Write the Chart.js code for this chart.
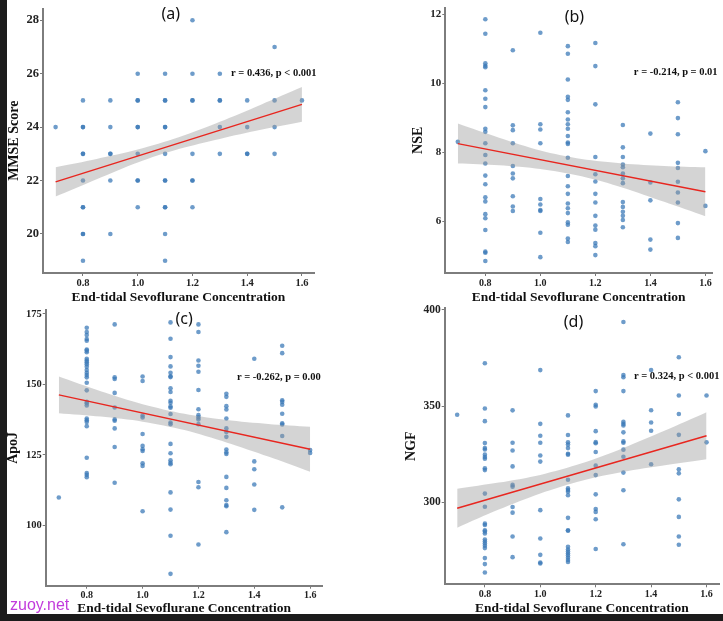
<!DOCTYPE html>
<html>
<head>
<meta charset="utf-8">
<script src="https://cdn.jsdelivr.net/npm/chart.js@4.4.0/dist/chart.umd.min.js"></script>
<style>
  html, body { margin: 0; padding: 0; background: #fff; }
  body { width: 723px; height: 621px; position: relative; overflow: hidden; }
  canvas { position: absolute; }
  #panelA { left: 0; top: 0; }
  #panelB { left: 362px; top: 0; }
  #panelC { left: 0; top: 300px; }
  #panelD { left: 362px; top: 300px; }
  .strip-left { position: absolute; left: 0; top: 0; width: 7px; height: 621px; background: #1c1c1c; }
  .strip-bottom { position: absolute; left: 0; top: 614px; width: 723px; height: 7px; background: #1c1c1c; }
  .mark { position: absolute; left: 10px; top: 596px; color: #c23bdc; font: 16px "Liberation Sans", sans-serif; }
</style>
</head>
<body>
<canvas id="panelA" width="362" height="310"></canvas>
<canvas id="panelB" width="361" height="310"></canvas>
<canvas id="panelC" width="362" height="321"></canvas>
<canvas id="panelD" width="361" height="321"></canvas>
<div class="strip-left"></div>
<div class="strip-bottom"></div>
<div class="mark">zuoy.net</div>
<script>
// shared x values
const doses = [0.7, 0.8, 0.9, 1.0, 1.1, 1.2, 1.3, 1.4, 1.5, 1.6];
const xTicks = [0.8, 1.0, 1.2, 1.4, 1.6];
const fitX = [0.7, 1.6];
const bandX = [0.7, 0.85, 1.0, 1.15, 1.3, 1.45, 1.6];

// (a) MMSE score, one list per dose
const mmseByDose = [
  [24],
  [25, 24, 24, 23, 23, 22, 21, 21, 20, 20, 19],
  [25, 24, 23, 23, 22, 20],
  [26, 25, 25, 24, 24, 23, 22, 22, 21],
  [26, 25, 25, 24, 24, 23, 22, 22, 21, 21, 20, 19],
  [28, 26, 25, 25, 23, 22, 22, 21],
  [26, 25, 25, 24, 23],
  [25, 24, 23, 23],
  [27, 25, 24, 23],
  [25]
];
const mmseTicks = [20, 22, 24, 26, 28];
const mmseFit = [21.95, 24.85];
const mmseUpper = [22.5, 22.81, 23.16, 23.62, 24.2, 24.84, 25.5];
const mmseLower = [21.4, 22.05, 22.68, 23.18, 23.56, 23.9, 24.2];

// (b) NSE
const nseByDose = [
  [8.30],
  [11.86, 11.44, 10.58, 10.51, 10.47, 9.80, 9.55, 9.31, 8.68, 8.59, 8.26, 7.92, 7.67, 7.32, 7.07, 6.69, 6.57, 6.20, 6.08, 5.74, 5.11, 5.08, 4.84],
  [10.96, 8.78, 8.64, 8.26, 7.60, 7.38, 7.24, 6.72, 6.42, 6.29],
  [11.47, 8.81, 8.66, 8.26, 6.64, 6.48, 6.32, 6.29, 5.66, 4.95],
  [11.08, 10.86, 10.11, 9.61, 9.52, 9.16, 8.95, 8.81, 8.68, 8.47, 8.28, 8.24, 7.84, 7.31, 7.01, 6.79, 6.51, 6.37, 6.23, 5.96, 5.89, 5.49, 5.39],
  [11.17, 10.50, 9.39, 7.86, 7.36, 7.15, 6.79, 6.54, 6.15, 5.87, 5.75, 5.36, 5.27, 5.01],
  [8.79, 8.14, 7.86, 7.64, 7.56, 7.38, 7.24, 7.10, 6.55, 6.41, 6.27, 6.15, 6.03, 5.82],
  [8.54, 7.12, 6.60, 5.46, 5.17],
  [9.45, 8.99, 8.52, 7.69, 7.54, 7.14, 6.83, 6.54, 5.94, 5.51],
  [8.03, 6.44]
];
const nseTicks = [6, 8, 10, 12];
const nseFit = [8.25, 6.85];
const nseUpper = [8.83, 8.42, 8.05, 7.8, 7.67, 7.6, 7.56];
const nseLower = [7.67, 7.62, 7.51, 7.3, 6.97, 6.56, 6.14];

// (c) ApoJ
const apojByDose = [
  [109.9],
  [170.1, 168.6, 167.5, 166.1, 165.5, 162.4, 162.0, 161.4, 159.1, 158.5, 157.9, 157.2, 156.3, 155.1, 154.1, 153.3, 152.5, 150.6, 147.9, 143.8, 143.3, 142.5, 137.9, 137.3, 136.7, 135.2, 124.0, 118.6, 117.9, 117.1],
  [171.3, 152.5, 151.9, 147.0, 141.8, 137.6, 137.1, 134.4, 127.8, 115.1],
  [152.8, 151.2, 139.0, 138.3, 132.4, 128.2, 127.0, 126.4, 122.0, 121.1, 105.0],
  [172.0, 166.2, 159.7, 156.4, 154.1, 152.9, 152.6, 148.6, 147.3, 144.2, 143.5, 142.2, 141.7, 139.5, 136.5, 135.9, 128.9, 125.6, 123.1, 122.2, 121.7, 111.7, 105.6, 96.3, 82.8],
  [171.3, 168.6, 158.5, 156.6, 154.5, 148.0, 141.2, 139.1, 138.3, 137.6, 135.9, 115.4, 113.5, 93.2],
  [146.7, 145.6, 142.3, 141.1, 137.9, 134.4, 133.1, 131.4, 126.9, 125.9, 125.3, 117.2, 113.3, 108.9, 107.2, 106.8, 97.6],
  [159.1, 122.7, 119.9, 114.5, 105.5],
  [163.7, 161.1, 144.4, 143.8, 142.8, 139.6, 136.2, 135.8, 131.7, 106.4],
  [126.7, 125.7]
];
const apojTicks = [100, 125, 150, 175];
const apojFit = [146.3, 127.0];
const apojUpper = [152.8, 147.6, 143.0, 139.6, 137.4, 136.0, 135.0];
const apojLower = [139.8, 138.6, 136.8, 133.8, 129.4, 124.4, 119.0];

// (d) NGF
const ngfByDose = [
  [345.5],
  [372.3, 348.8, 342.2, 330.8, 328.2, 327.5, 324.8, 323.6, 322.7, 317.7, 316.8, 304.6, 297.8, 289.0, 288.3, 285.6, 284.9, 283.9, 280.7, 279.7, 278.7, 277.5, 276.3, 271.1, 268.0, 263.6],
  [347.8, 331.0, 327.0, 318.7, 309.1, 308.2, 297.6, 294.7, 282.3, 271.6],
  [368.7, 340.8, 334.6, 331.0, 324.4, 321.2, 296.0, 281.3, 272.8, 268.8, 268.3],
  [345.2, 335.0, 331.2, 330.1, 328.2, 325.3, 324.8, 311.8, 307.3, 306.4, 305.6, 303.7, 292.0, 285.6, 285.3, 277.0, 275.6, 274.5, 273.5, 272.5, 271.3, 270.1, 269.1],
  [357.8, 350.7, 349.8, 337.0, 331.3, 330.7, 326.2, 319.1, 314.2, 304.2, 296.6, 295.1, 291.3, 275.8],
  [393.7, 366.1, 365.0, 357.8, 341.9, 340.8, 340.0, 336.4, 331.7, 331.0, 327.4, 323.7, 315.5, 306.3, 278.3],
  [368.7, 347.9, 341.5, 337.2, 319.8],
  [375.4, 355.5, 345.9, 335.1, 317.2, 315.1, 301.6, 292.5, 282.3, 278.0],
  [355.5, 331.2]
];
const ngfTicks = [300, 350, 400];
const ngfFit = [297.0, 334.6];
const ngfUpper = [307.1, 310.3, 314.3, 320.3, 328.3, 337.3, 346.8];
const ngfLower = [286.9, 296.3, 304.7, 311.3, 315.9, 319.3, 322.4];

const serifBold = (size) => ({ family: '"Liberation Serif", "Times New Roman", serif', weight: 'bold', size: size });

// panel label and r/p note
const notes = {
  id: 'notes',
  afterDatasetsDraw(chart, args, opts) {
    const ctx = chart.ctx;
    const x = chart.scales.x, y = chart.scales.y;
    ctx.save();
    ctx.fillStyle = '#111';
    ctx.textBaseline = 'middle';
    ctx.font = '16px "Noto Sans", sans-serif';
    ctx.textAlign = 'center';
    ctx.fillText(opts.label, x.getPixelForValue(opts.labelAt[0]), y.getPixelForValue(opts.labelAt[1]));
    ctx.font = 'bold 10.5px "Liberation Serif", serif';
    ctx.textAlign = 'left';
    ctx.fillText(opts.stat, x.getPixelForValue(opts.statAt[0]), y.getPixelForValue(opts.statAt[1]));
    ctx.restore();
  }
};

function toPoints(byDose) {
  const pts = [];
  byDose.forEach((vals, i) => vals.forEach(v => pts.push({ x: doses[i], y: v })));
  return pts;
}

function makePanel(id, p) {
  new Chart(document.getElementById(id), {
    type: 'scatter',
    data: {
      datasets: [
        {
          type: 'line', order: 0,
          data: fitX.map((v, i) => ({ x: v, y: p.fit[i] })),
          borderColor: '#e8261f', borderWidth: 1.4, pointRadius: 0, fill: false
        },
        {
          type: 'line', order: 1,
          data: bandX.map((v, i) => ({ x: v, y: p.upper[i] })),
          borderWidth: 0, pointRadius: 0, tension: 0.3,
          backgroundColor: 'rgba(153,153,153,0.42)', fill: '+1'
        },
        {
          type: 'line', order: 1,
          data: bandX.map((v, i) => ({ x: v, y: p.lower[i] })),
          borderWidth: 0, pointRadius: 0, tension: 0.3, fill: false
        },
        {
          order: 2,
          data: toPoints(p.byDose),
          pointRadius: 2.3, pointBorderWidth: 0,
          backgroundColor: 'rgba(60,122,184,0.74)'
        }
      ]
    },
    options: {
      responsive: false,
      animation: false,
      layout: { padding: { left: p.padLeft, top: p.padTop, right: p.padRight, bottom: 0 } },
      plugins: {
        legend: { display: false },
        tooltip: { enabled: false },
        notes: { label: p.label, labelAt: p.labelAt, stat: p.stat, statAt: p.statAt }
      },
      scales: {
        x: {
          type: 'linear', min: p.xMin, max: p.xMax,
          afterBuildTicks: s => { s.ticks = xTicks.map(v => ({ value: v })); },
          afterFit: s => { s.height = p.xH; },
          ticks: { font: serifBold(p.xTickSize), color: '#222', padding: 1, autoSkip: false, maxRotation: 0,
                   callback: v => Number(v).toFixed(1) },
          grid: { drawOnChartArea: false, drawTicks: true, tickLength: 3, color: '#777' },
          border: { color: '#7d7d7d', width: 2 },
          title: { display: true, text: 'End-tidal Sevoflurane Concentration', font: serifBold(13.5),
                   color: '#111', padding: { top: 0, bottom: 4 } }
        },
        y: {
          min: p.yMin, max: p.yMax,
          afterBuildTicks: s => { s.ticks = p.yTicks.map(v => ({ value: v })); },
          afterFit: s => { s.width = p.yW; },
          ticks: { font: serifBold(p.yTickSize), color: '#222', padding: 1, autoSkip: false },
          grid: { drawOnChartArea: false, drawTicks: true, tickLength: 3, color: '#777' },
          border: { color: '#7d7d7d', width: 2 },
          title: { display: true, text: p.yTitle, font: serifBold(14), color: '#111', padding: { top: 5, bottom: 0 } }
        }
      }
    },
    plugins: [notes]
  });
}

makePanel('panelA', {
  byDose: mmseByDose, fit: mmseFit, upper: mmseUpper, lower: mmseLower, yTicks: mmseTicks,
  yMin: 18.54, yMax: 28.44, xMin: 0.654, xMax: 1.644, yTitle: 'MMSE Score',
  padLeft: 1, yW: 42, padTop: 2, padRight: 48, xH: 37, xTickSize: 10.5, yTickSize: 12.5,
  label: '(a)', labelAt: [1.121, 28.22], stat: 'r = 0.436, p < 0.001', statAt: [1.341, 26.0]
});
makePanel('panelB', {
  byDose: nseByDose, fit: nseFit, upper: nseUpper, lower: nseLower, yTicks: nseTicks,
  yMin: 4.49, yMax: 12.2, xMin: 0.6545, xMax: 1.624, yTitle: 'NSE',
  padLeft: 43, yW: 40.3, padTop: 2, padRight: 11, xH: 37, xTickSize: 10, yTickSize: 11,
  label: '(b)', labelAt: [1.124, 11.92], stat: 'r = -0.214, p = 0.01', statAt: [1.34, 10.33]
});
makePanel('panelC', {
  byDose: apojByDose, fit: apojFit, upper: apojUpper, lower: apojLower, yTicks: apojTicks,
  yMin: 78.6, yMax: 176.4, xMin: 0.653, xMax: 1.645, yTitle: 'ApoJ',
  padLeft: 0, yW: 45.7, padTop: 10, padRight: 39.3, xH: 35.3, xTickSize: 10, yTickSize: 10.5,
  label: '(c)', labelAt: [1.149, 173.2], stat: 'r = -0.262, p = 0.00', statAt: [1.338, 152.7]
});
makePanel('panelD', {
  byDose: ngfByDose, fit: ngfFit, upper: ngfUpper, lower: ngfLower, yTicks: ngfTicks,
  yMin: 257.5, yMax: 401, xMin: 0.655, xMax: 1.645, yTitle: 'NGF',
  padLeft: 36.4, yW: 46.3, padTop: 7.3, padRight: 1, xH: 36.7, xTickSize: 10, yTickSize: 11.5,
  label: '(d)', labelAt: [1.12, 393.6], stat: 'r = 0.324, p < 0.001', statAt: [1.338, 365.5]
});
</script>
</body>
</html>
